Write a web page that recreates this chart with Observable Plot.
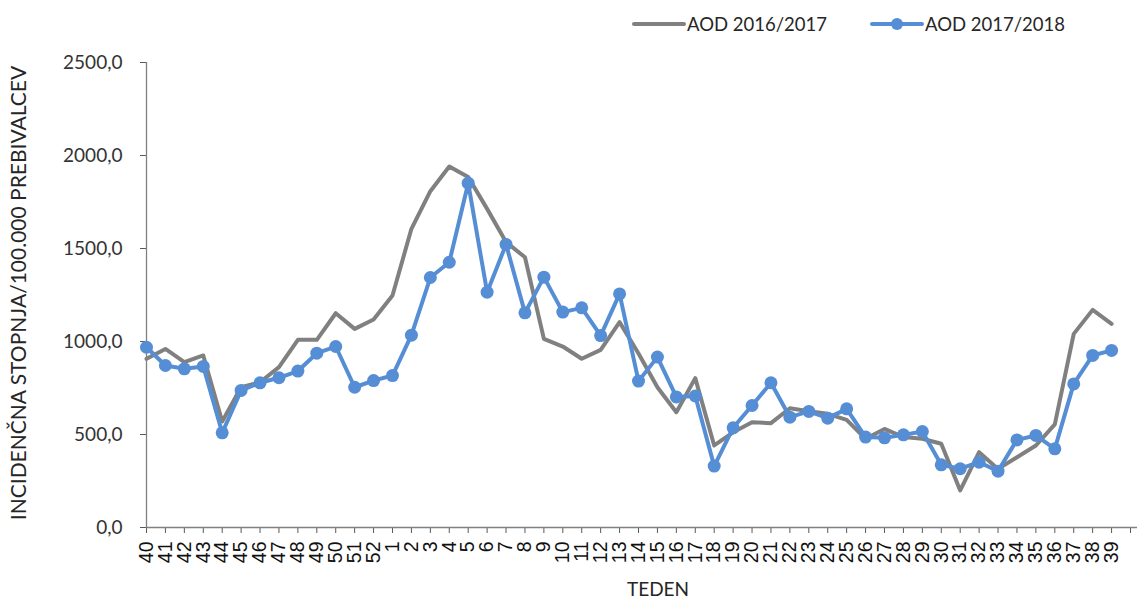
<!DOCTYPE html>
<html>
<head>
<meta charset="utf-8">
<script src="https://cdn.jsdelivr.net/npm/d3@7"></script>
<script src="https://cdn.jsdelivr.net/npm/@observablehq/plot@0.6"></script>
<style>
  body { margin: 0; background: #fff; }
  #legend { position: relative; height: 50px; width: 1139px; font-family: Lato, "Open Sans", sans-serif; font-size: 18.5px; color: #262626; }
  .item { position: absolute; top: 13px; display: flex; align-items: center; }
  .item svg { display: block; }
  #chart svg { display: block; }
  #chart g[aria-label="x-axis tick label"] { font-size: 19.5px; font-family: "Liberation Sans", Arial, sans-serif; }
  #chart g[aria-label="x-axis tick label"] text { font-size: 19.5px; }
</style>
</head>
<body>
<div id="legend">
  <div class="item" style="left:632px"><svg width="55" height="22"><line x1="2" y1="11" x2="52" y2="11" stroke="#808080" stroke-width="4" stroke-linecap="round"/></svg><span>AOD 2016/2017</span></div>
  <div class="item" style="left:870px"><svg width="55" height="22"><line x1="2" y1="11" x2="52" y2="11" stroke="#558ed5" stroke-width="4" stroke-linecap="round"/><circle cx="27" cy="11" r="6" fill="#558ed5"/></svg><span>AOD 2017/2018</span></div>
</div>
<div id="chart"></div>
<script>
const weeks = ["40","41","42","43","44","45","46","47","48","49","50","51","52",
  "1","2","3","4","5","6","7","8","9","10","11","12","13","14","15","16","17","18","19","20",
  "21","22","23","24","25","26","27","28","29","30","31","32","33","34","35","36","37","38","39"];
const aod1617 = [907,960,889,925,570,754,781,862,1009,1009,1152,1068,1118,
  1247,1606,1808,1941,1884,1713,1535,1453,1014,973,907,955,1104,935,754,620,803,441,512,566,
  561,641,625,611,579,477,530,486,477,450,199,405,315,378,441,554,1041,1170,1095];
const aod1718 = [969,871,853,866,509,737,778,805,841,937,973,754,790,
  817,1034,1344,1426,1851,1265,1522,1154,1346,1158,1181,1032,1256,787,916,702,707,330,536,656,
  778,593,624,588,638,486,482,498,516,337,316,351,303,471,495,423,772,925,952];
const yTicks = [0,500,1000,1500,2000,2500];
const seriesNames = ["AOD 2016/2017","AOD 2017/2018"];
const xTitle = "TEDEN";
const yTitle = "INCIDENČNA STOPNJA/100.000 PREBIVALCEV";

const d1 = weeks.map((w,i)=>({week:w, value:aod1617[i], series:seriesNames[0]}));
const d2 = weeks.map((w,i)=>({week:w, value:aod1718[i], series:seriesNames[1]}));
const xDomain = [...weeks, " "];
const fmt = d => d.toFixed(1).replace(".", ",");

const chart = Plot.plot({
  width: 1139,
  height: 549,
  marginLeft: 146,
  marginRight: 2,
  marginTop: 12,
  marginBottom: 72,
  style: {fontFamily: "Lato, 'Open Sans', sans-serif", background: "#fff"},
  x: {type: "point", domain: xDomain, range: [146, 1130], padding: 0},
  y: {domain: [0, 2500], range: [477, 12]},
  marks: [
    Plot.axisY({ticks: yTicks, tickFormat: fmt, tickSize: 6, tickPadding: 18, fontSize: 19, fill: "#333", stroke: "#595959", label: null}),
    Plot.axisX({tickRotate: -90, tickSize: 6, tickPadding: 8, fontSize: 19.5, fontFamily: "'Liberation Sans', Arial, sans-serif", fill: "#111", stroke: "#595959", label: null}),
    Plot.ruleY([0], {stroke: "#808080", strokeWidth: 1.3}),
    Plot.ruleX([weeks[0]], {stroke: "#808080", strokeWidth: 1.3}),
    Plot.line(d1, {x: "week", y: "value", stroke: "#808080", strokeWidth: 4, strokeLinejoin: "round"}),
    Plot.line(d2, {x: "week", y: "value", stroke: "#558ed5", strokeWidth: 4, strokeLinejoin: "round"}),
    Plot.dot(d2, {x: "week", y: "value", fill: "#558ed5", r: 6.5})
  ]
});
document.getElementById("chart").appendChild(chart);

const svg = d3.select(chart);
svg.append("text").text(yTitle)
  .attr("transform", "translate(26,243) rotate(-90)")
  .attr("text-anchor", "middle")
  .attr("font-family", "Lato, 'Open Sans', sans-serif")
  .attr("font-size", 21).attr("fill", "#262626");
svg.append("text").text(xTitle)
  .attr("x", 658).attr("y", 546)
  .attr("text-anchor", "middle")
  .attr("font-family", "Lato, 'Open Sans', sans-serif")
  .attr("font-size", 19).attr("fill", "#262626");
</script>
</body>
</html>
